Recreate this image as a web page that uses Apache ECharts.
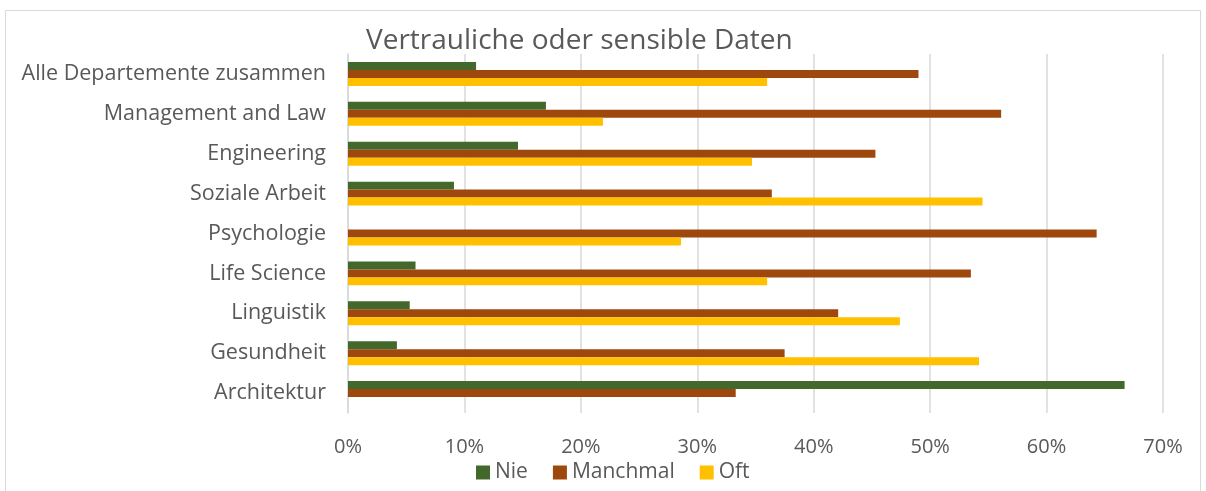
<!DOCTYPE html>
<html><head><meta charset="utf-8">
<script src="https://cdn.jsdelivr.net/npm/echarts@6/dist/echarts.min.js"></script>
<style>html,body{margin:0;padding:0;background:#fff}#c{width:1206px;height:491px}</style>
</head><body><div id="c"></div>
<script>
const categories = ['Alle Departemente zusammen','Management and Law','Engineering','Soziale Arbeit','Psychologie','Life Science','Linguistik','Gesundheit','Architektur'];
const nie      = [11.0, 17.0, 14.6, 9.1, 0,    5.8, 5.3, 4.2, 66.7];
const manchmal = [49.0, 56.1, 45.3, 36.4, 64.3, 53.5, 42.1, 37.5, 33.3];
const oft      = [36.0, 21.9, 34.7, 54.5, 28.6, 36.0, 47.4, 54.2, 0];
const xTicks = [0,10,20,30,40,50,60,70];

const FONT = 'Open Sans';
const chart = echarts.init(document.getElementById('c'));
chart.setOption({
  animation:false,
  textStyle:{fontFamily:FONT},
  graphic:[{type:'rect',shape:{x:5.5,y:10.5,width:1195,height:490},style:{fill:'none',stroke:'#d9d9d9',lineWidth:1},silent:true}],
  title:{text:'Vertrauliche oder sensible Daten',left:361,top:22,
    textStyle:{fontFamily:FONT,fontSize:28,fontWeight:'normal',color:'#595959'}},
  legend:{bottom:3,left:471,itemWidth:14,itemHeight:14,itemGap:25,icon:'rect',
    textStyle:{fontFamily:FONT,fontSize:21,color:'#595959'},
    data:['Nie','Manchmal','Oft']},
  grid:{left:348,right:43,top:54,bottom:78,containLabel:false},
  xAxis:{type:'value',min:0,max:70,interval:10,
    axisLine:{show:false},axisTick:{show:false},
    splitLine:{lineStyle:{color:'#d9d9d9',width:1.5}},
    axisLabel:{formatter:v=>v+'%',fontFamily:FONT,fontSize:20,color:'#595959',margin:24,
      customValues:xTicks}},
  yAxis:{type:'category',data:categories,inverse:true,
    axisLine:{show:true,lineStyle:{color:'#d9d9d9',width:1.5}},axisTick:{show:false},
    axisLabel:{fontFamily:FONT,fontSize:21.5,color:'#595959',margin:22}},
  series:[
    {name:'Nie',type:'bar',data:nie,barGap:'0%',barCategoryGap:'40%',itemStyle:{color:'#43682b'}},
    {name:'Manchmal',type:'bar',data:manchmal,barGap:'0%',barCategoryGap:'40%',itemStyle:{color:'#9e480e'}},
    {name:'Oft',type:'bar',data:oft,barGap:'0%',barCategoryGap:'40%',itemStyle:{color:'#ffc000'}}
  ]
});
</script></body></html>
